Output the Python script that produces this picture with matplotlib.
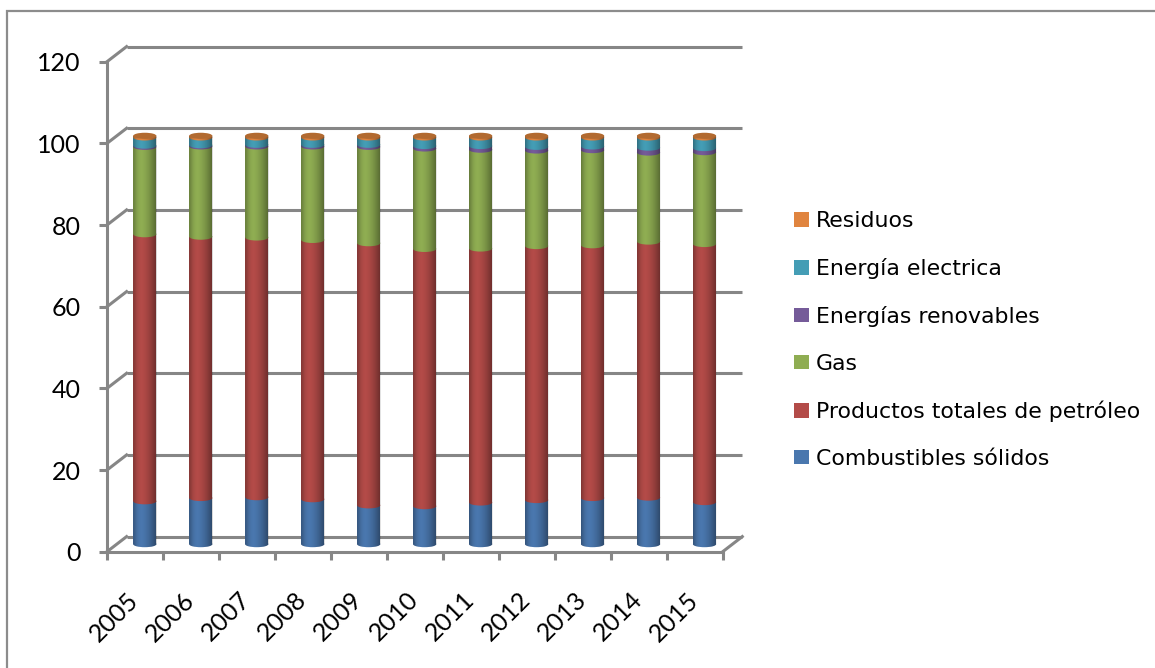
import numpy as np
import matplotlib
matplotlib.use("Agg")
import matplotlib.pyplot as plt
from matplotlib.patches import Ellipse, Rectangle, Patch
from matplotlib.path import Path

# ---------------- data ----------------
years = ["2005", "2006", "2007", "2008", "2009", "2010", "2011", "2012", "2013", "2014", "2015"]
solidos = [10.5, 11.3, 11.5, 11.0, 9.5, 9.3, 10.2, 10.8, 11.3, 11.4, 10.3]
petroleo = [65.4, 64.0, 63.6, 63.5, 64.2, 63.0, 62.2, 62.2, 61.9, 62.7, 63.2]
gas = [21.4, 22.1, 22.3, 22.9, 23.6, 24.6, 24.2, 23.4, 23.3, 21.8, 22.5]
renovables = [0.3, 0.3, 0.4, 0.4, 0.5, 0.6, 0.9, 0.9, 0.9, 1.2, 1.0]
electrica = [2.0, 1.9, 1.8, 1.8, 1.8, 2.1, 2.1, 2.3, 2.2, 2.5, 2.6]
residuos = [0.4, 0.4, 0.4, 0.4, 0.4, 0.4, 0.4, 0.4, 0.4, 0.4, 0.4]

series_names = ["Combustibles sólidos", "Productos totales de petróleo", "Gas",
                "Energías renovables", "Energía electrica", "Residuos"]
series_vals = [solidos, petroleo, gas, renovables, electrica, residuos]
series_colors = ["#4A77AE", "#B34B48", "#8FAD52", "#755B99", "#449DB5", "#E0843F"]
cap_color = "#B26A30"
yticks = [0, 20, 40, 60, 80, 100, 120]

# ---------------- figure ----------------
W, H = 1155, 668
fig = plt.figure(figsize=(W / 100, H / 100), dpi=100)
fig.patch.set_facecolor("white")

# chart-area border (only left/top visible inside the picture)
fig.add_artist(Rectangle((7 / W, -0.2), 1.2, (H - 11) / H + 0.2, transform=fig.transFigure,
                         fill=False, edgecolor="#8C8C8C", linewidth=1.6))

left, right = 107 / W, 722.7 / W
bottom, top = (H - 551.7) / H, (H - 61.7) / H
ax = fig.add_axes([left, bottom, right - left, top - bottom])
ax.set_facecolor("none")

n = len(years)
x = np.arange(n)
DX, DY = 0.35, 3.7          # depth offset (data units)
bw, eh = 0.415, 1.5         # cylinder width / ellipse height
grid_c = "#868686"
glw = 2.2

# back wall gridlines and left-side diagonals
for v in yticks:
    ax.plot([-0.5 + DX, n - 0.5 + DX], [v + DY, v + DY], color=grid_c, lw=glw,
            clip_on=False, zorder=1, solid_capstyle="butt")
    ax.plot([-0.5, -0.5 + DX], [v, v + DY], color=grid_c, lw=glw, clip_on=False, zorder=1)
# right floor diagonal
ax.plot([n - 0.5, n - 0.5 + DX], [0, DY], color=grid_c, lw=glw, clip_on=False, zorder=1)

# shading profile for cylinders
t = np.linspace(0, 1, 64)
alpha = np.where(t < 0.35, 0.30 * ((0.35 - t) / 0.35) ** 2, 0.42 * ((t - 0.35) / 0.65) ** 1.6)
shade = np.zeros((1, len(t), 4))
shade[0, :, 3] = alpha

for i in range(n):
    xc = x[i] + DX / 2
    base = DY / 2
    cum = base
    for vals, col in zip(series_vals, series_colors):
        v = vals[i]
        ax.bar(xc, v, bottom=cum, width=bw, color=col, linewidth=0, zorder=3, clip_on=False)
        ax.add_patch(Ellipse((xc, cum), bw, eh, facecolor=col, edgecolor="none",
                             zorder=3, clip_on=False))
        cum += v
    # shading overlay clipped to cylinder silhouette
    th = np.linspace(np.pi, 2 * np.pi, 40)
    verts = [(xc + bw / 2 * np.cos(a), base + eh / 2 * np.sin(a)) for a in th]
    verts += [(xc + bw / 2, cum), (xc - bw / 2, cum), verts[0]]
    codes = [Path.MOVETO] + [Path.LINETO] * (len(verts) - 2) + [Path.CLOSEPOLY]
    sil = Path(verts, codes)
    im = ax.imshow(shade, extent=(xc - bw / 2, xc + bw / 2, base - eh / 2, cum),
                   aspect="auto", zorder=4, interpolation="bilinear")
    im.set_clip_path(sil, ax.transData)
    # top cap
    ax.add_patch(Ellipse((xc, cum), bw, eh, facecolor=cap_color, edgecolor="none",
                         zorder=5, clip_on=False))

ax.set_xlim(-0.5, n - 0.5)
ax.set_ylim(0, 120)

# spines (front axis)
for s in ["top", "right"]:
    ax.spines[s].set_visible(False)
for s in ["left", "bottom"]:
    ax.spines[s].set_color(grid_c)
    ax.spines[s].set_linewidth(glw)
    ax.spines[s].set_zorder(6)

tick_font = ["Lato", "DejaVu Sans"]
tick_size = 18
ax.set_yticks(yticks)
ax.set_yticklabels([str(v) for v in yticks], fontsize=tick_size, family=tick_font)
ax.tick_params(axis="y", length=6, width=glw, color=grid_c, pad=13)

ax.set_xticks(np.arange(-0.5, n, 1.0))
ax.set_xticklabels([])
ax.tick_params(axis="x", which="major", length=6, width=glw, color=grid_c)
ax.set_xticks(x, minor=True)
ax.set_xticklabels(years, minor=True, rotation=45, ha="right", va="center",
                   rotation_mode="anchor", fontsize=tick_size, family=tick_font)
ax.tick_params(axis="x", which="minor", length=0, pad=32)

# legend
handles = [Patch(facecolor=c, edgecolor="none") for c in series_colors][::-1]
labels = series_names[::-1]
fig.legend(handles, labels, loc="center left", bbox_to_anchor=(794 / W, (H - 340) / H),
           frameon=False, borderpad=0, borderaxespad=0,
           prop={"family": "DejaVu Sans", "size": 15.8},
           handlelength=0.68, handleheight=0.65, handletextpad=0.3, labelspacing=1.22)

fig.savefig("out.png", dpi=100, facecolor="white")
